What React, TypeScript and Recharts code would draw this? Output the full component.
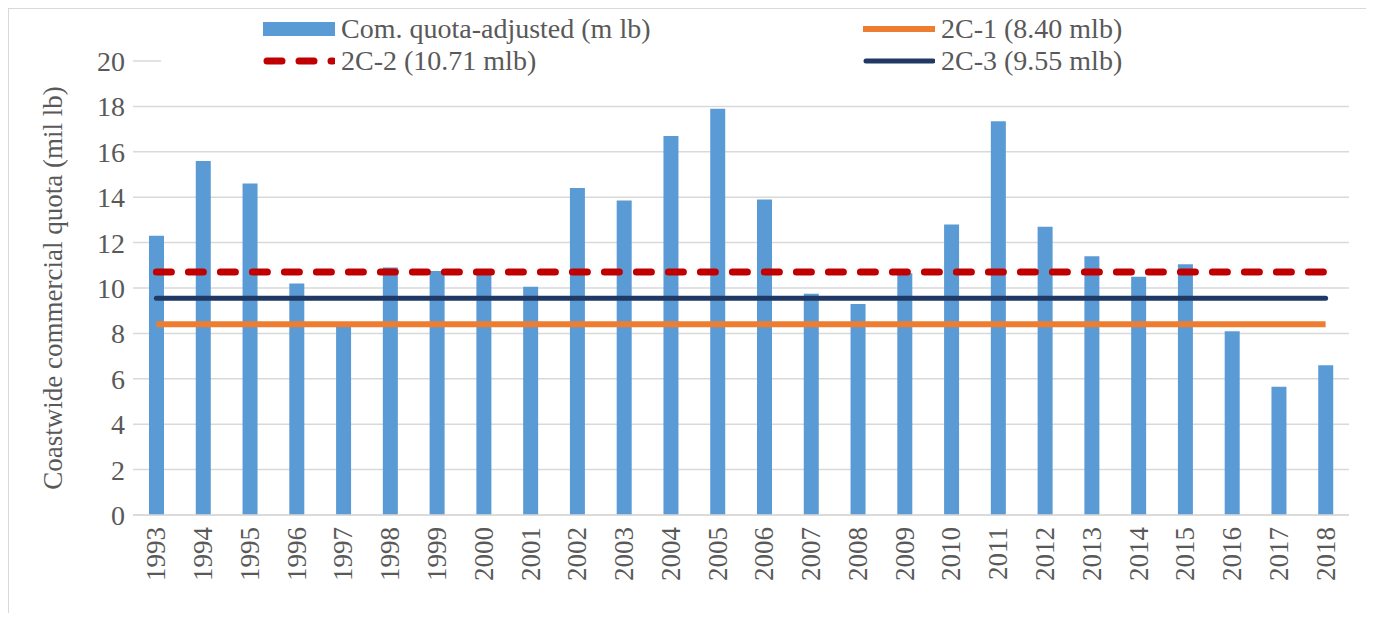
import React from "react";
import {
  ComposedChart,
  Bar,
  Line,
  XAxis,
  YAxis,
  CartesianGrid,
  Legend,
} from "recharts";

// Coastwide commercial quota, 1993-2018 (million lb)
const years = [
  "1993", "1994", "1995", "1996", "1997", "1998", "1999", "2000", "2001",
  "2002", "2003", "2004", "2005", "2006", "2007", "2008", "2009", "2010",
  "2011", "2012", "2013", "2014", "2015", "2016", "2017", "2018",
];
const quotaAdjusted = [
  12.3, 15.6, 14.6, 10.2, 8.35, 10.9, 10.75, 10.65, 10.05, 14.4, 13.85, 16.7,
  17.9, 13.9, 9.75, 9.3, 10.65, 12.8, 17.35, 12.7, 11.4, 10.5, 11.05, 8.1,
  5.65, 6.6,
];
// alternative reference levels
const tier2C1 = 8.4;
const tier2C2 = 10.71;
const tier2C3 = 9.55;
const yTicks = [0, 2, 4, 6, 8, 10, 12, 14, 16, 18, 20];

const FONT = "Liberation Serif, DejaVu Serif, Noto Serif, Times New Roman, Tinos, serif";
const TEXT = "#595959";
const GRID = "#D9D9D9";

const chartData = years.map((year, idx) => ({
  year,
  quota: quotaAdjusted[idx],
  c1: tier2C1,
  c2: tier2C2,
  c3: tier2C3,
}));

const swatches: Record<string, React.ReactNode> = {
  quota: <rect x={0} y={4} width={72} height={14} fill="#5B9BD5" />,
  c1: <line x1={0} y1={11} x2={72} y2={11} stroke="#ED7D31" strokeWidth={6} />,
  c2: (
    <line
      x1={4}
      y1={11}
      x2={70}
      y2={11}
      stroke="#C00000"
      strokeWidth={7}
      strokeLinecap="round"
      strokeDasharray="15 17"
    />
  ),
  c3: (
    <line x1={3} y1={11} x2={70} y2={11} stroke="#203864" strokeWidth={5} strokeLinecap="round" />
  ),
};

const legendOrder = [
  { key: "quota", label: "Com. quota-adjusted (m lb)" },
  { key: "c1", label: "2C-1 (8.40 mlb)" },
  { key: "c2", label: "2C-2 (10.71 mlb)" },
  { key: "c3", label: "2C-3 (9.55 mlb)" },
];

function renderLegend() {
  return (
    <div
      style={{
        display: "grid",
        gridTemplateColumns: "600px 500px",
        rowGap: 4,
        paddingLeft: 102,
        paddingTop: 2,
      }}
    >
      {legendOrder.map((item) => (
        <div key={item.key} style={{ display: "flex", alignItems: "center", height: 28 }}>
          <svg width={72} height={22} style={{ marginRight: 6 }}>
            {swatches[item.key]}
          </svg>
          <span style={{ fontFamily: FONT, fontSize: 28, color: TEXT, lineHeight: "28px" }}>
            {item.label}
          </span>
        </div>
      ))}
    </div>
  );
}

const YearTick = (props: any) => {
  const { x, y, payload } = props;
  const ty = y + 12;
  return (
    <text
      x={x}
      y={ty}
      transform={`rotate(-90, ${x}, ${ty})`}
      textAnchor="end"
      dominantBaseline="central"
      fill={TEXT}
      style={{ fontFamily: FONT, fontSize: 27 }}
    >
      {payload.value}
    </text>
  );
};

export default function App() {
  return (
    <div
      style={{
        width: 1360,
        height: 605,
        boxSizing: "border-box",
        borderTop: `1px solid ${GRID}`,
        borderLeft: `1px solid ${GRID}`,
        borderRight: `1px solid ${GRID}`,
        background: "#fff",
        fontFamily: FONT,
      }}
    >
      <ComposedChart
        width={1358}
        height={604}
        data={chartData}
        margin={{ top: 52, right: 18, left: 0, bottom: 0 }}
        style={{ fontFamily: FONT }}
      >
        <CartesianGrid vertical={false} stroke={GRID} strokeWidth={1.5} />
        <XAxis
          dataKey="year"
          height={98}
          interval={0}
          tickLine={false}
          tickSize={0}
          tickMargin={0}
          axisLine={{ stroke: GRID, strokeWidth: 1.5 }}
          tick={<YearTick />}
        />
        <YAxis
          width={124}
          domain={[0, 20]}
          ticks={yTicks}
          axisLine={false}
          tickLine={false}
          tickSize={0}
          tickMargin={8}
          tick={{ fill: TEXT, fontSize: 28, style: { fontFamily: FONT } }}
          label={{
            value: "Coastwide commercial quota (mil lb)",
            angle: -90,
            position: "insideLeft",
            offset: 43,
            style: { textAnchor: "middle", fill: TEXT, fontFamily: FONT, fontSize: 27 },
          }}
        />
        <Legend
          layout="horizontal"
          verticalAlign="middle"
          align="center"
          content={renderLegend}
          wrapperStyle={{ left: 152, top: 4, width: 1190, height: 72, background: "#fff" }}
        />
        <Bar dataKey="quota" fill="#5B9BD5" barSize={15} isAnimationActive={false} />
        <Line
          dataKey="c1"
          stroke="#ED7D31"
          strokeWidth={6}
          dot={false}
          activeDot={false}
          isAnimationActive={false}
        />
        <Line
          dataKey="c2"
          stroke="#C00000"
          strokeWidth={7}
          strokeLinecap="round"
          strokeDasharray="15 17"
          dot={false}
          activeDot={false}
          isAnimationActive={false}
        />
        <Line
          dataKey="c3"
          stroke="#203864"
          strokeWidth={5}
          strokeLinecap="round"
          dot={false}
          activeDot={false}
          isAnimationActive={false}
        />
      </ComposedChart>
    </div>
  );
}
